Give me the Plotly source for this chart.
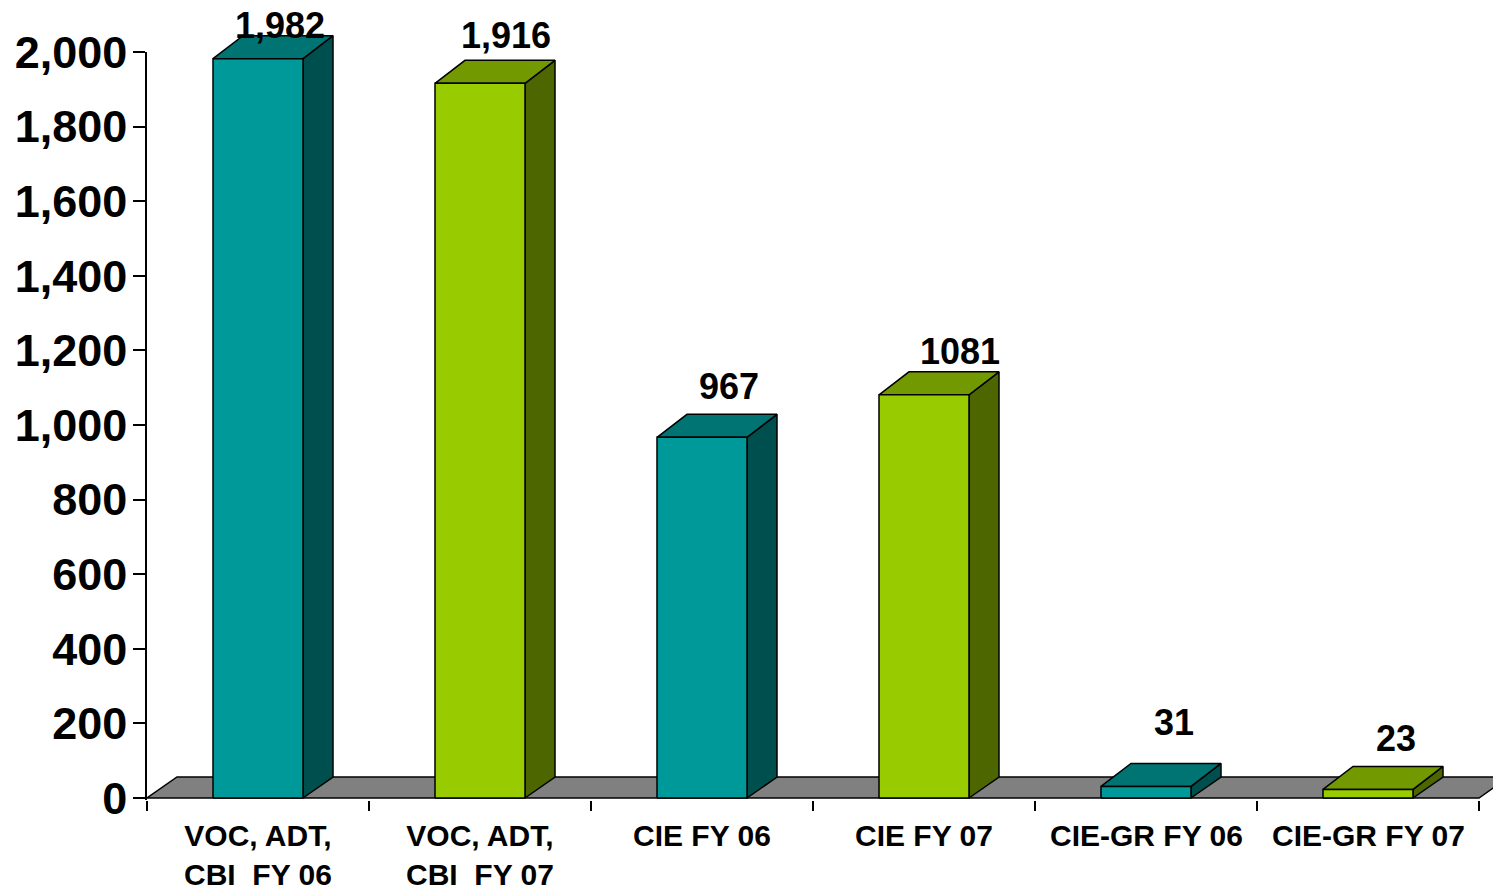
import plotly.graph_objects as go

# ---------------- data ----------------
categories = ["VOC, ADT,<br>CBI\u00a0 FY 06", "VOC, ADT,<br>CBI\u00a0 FY 07",
              "CIE FY 06", "CIE FY 07", "CIE-GR FY 06", "CIE-GR FY 07"]
values = [1982, 1916, 967, 1081, 31, 23]
value_labels = ["1,982", "1,916", "967", "1081", "31", "23"]
years = ["FY 06", "FY 07", "FY 06", "FY 07", "FY 06", "FY 07"]
y_ticks = [0, 200, 400, 600, 800, 1000, 1200, 1400, 1600, 1800, 2000]
y_ticktext = ["0", "200", "400", "600", "800", "1,000", "1,200", "1,400", "1,600", "1,800", "2,000"]

# ---------------- style ----------------
colors = {
    "FY 06": dict(front="#009999", top="#007373", side="#004F4F"),
    "FY 07": dict(front="#99CC00", top="#739900", side="#4D6600"),
}
FLOOR = "#808080"
FONT = "Liberation Sans, Arial, sans-serif"

PAGE_OFF = 8                   # default body margin of the html page
W, H = 1501, 893 - PAGE_OFF
ML, MB = 147 - PAGE_OFF, 93
CAT_PX = 222.0                 # pixels per category
PXU = 746.0 / 2000.0           # pixels per value unit
plot_w = W - ML
plot_h = H - MB
ymin = -2.0 / PXU
ymax = ymin + plot_h / PXU
xmin = -0.5
xmax = xmin + plot_w / CAT_PX

half_w = 45.0 / CAT_PX
dx = 30.0 / CAT_PX
dy_top = 23.0 / PXU
dy_floor = 21.0 / PXU

# per-label nudges (pixels)
label_dx_px = [22, 26, 27, 36, 28, 28]
label_dy_px = [21, 35, 38, 31, 51, 38]

fig = go.Figure()


def poly(xs, ys, fill):
    fig.add_trace(go.Scatter(
        x=xs + [xs[0]], y=ys + [ys[0]], mode="lines", fill="toself",
        fillcolor=fill, line=dict(color="black", width=1.5),
        xaxis="x", yaxis="y2", hoverinfo="skip", showlegend=False))


# floor
n = len(categories)
fx0, fx1 = -0.5, n - 0.5
poly([fx0, fx1, fx1 + dx, fx0 + dx], [0, 0, dy_floor, dy_floor], FLOOR)

# bars
for i, (v, yr) in enumerate(zip(values, years)):
    c = colors[yr]
    l, r = i - half_w, i + half_w
    poly([r, r + dx, r + dx, r], [0, dy_floor, v + dy_top, v], c["side"])
    poly([l, r, r + dx, l + dx], [v, v, v + dy_top, v + dy_top], c["top"])
    poly([l, r, r, l], [0, 0, v, v], c["front"])

annotations = []
for i, lab in enumerate(categories):
    annotations.append(dict(
        x=i, y=0, xref="x", yref="paper", yanchor="top", xanchor="center",
        yshift=-17, text=lab, showarrow=False, align="center",
        font=dict(family=FONT, size=30, color="black", weight="bold")))
for i, (v, lab) in enumerate(zip(values, value_labels)):
    annotations.append(dict(
        x=i, y=v, xref="x", yref="y2", yanchor="bottom", xanchor="center",
        xshift=label_dx_px[i], yshift=label_dy_px[i] - 9, text=lab,
        showarrow=False, borderpad=0,
        font=dict(family=FONT, size=36, color="black", weight="bold")))

# dummy trace to make the visible y axis subplot exist
fig.add_trace(go.Scatter(x=[None], y=[None], xaxis="x", yaxis="y",
                         showlegend=False, hoverinfo="skip"))

fig.update_layout(
    width=W, height=H, autosize=False,
    margin=dict(l=ML, r=0, t=0, b=MB, pad=0, autoexpand=False),
    paper_bgcolor="white", plot_bgcolor="rgba(0,0,0,0)",
    showlegend=False,
    annotations=annotations,
    xaxis=dict(range=[xmin, xmax], domain=[0, 1], anchor="y", automargin=False,
               tickvals=[k - 0.5 for k in range(n + 1)], ticks="outside",
               ticklen=10, tickwidth=1.5, tickcolor="black",
               showticklabels=False, showline=False, showgrid=False,
               zeroline=False, fixedrange=True),
    yaxis=dict(range=[ymin, 2000], domain=[0, (2000 - ymin) * PXU / plot_h],
               anchor="x", automargin=False, tickvals=y_ticks, ticktext=y_ticktext,
               ticks="outside", ticklen=12, tickwidth=1.5, tickcolor="black",
               showline=True, linecolor="black", linewidth=1.5,
               showgrid=False, zeroline=False, ticklabelstandoff=-3,
               tickfont=dict(family=FONT, size=45, color="black", weight="bold")),
    yaxis2=dict(range=[ymin, ymax], domain=[0, 1], anchor="x", automargin=False,
                visible=False, showgrid=False, zeroline=False),
)

fig.write_html("out.html")
